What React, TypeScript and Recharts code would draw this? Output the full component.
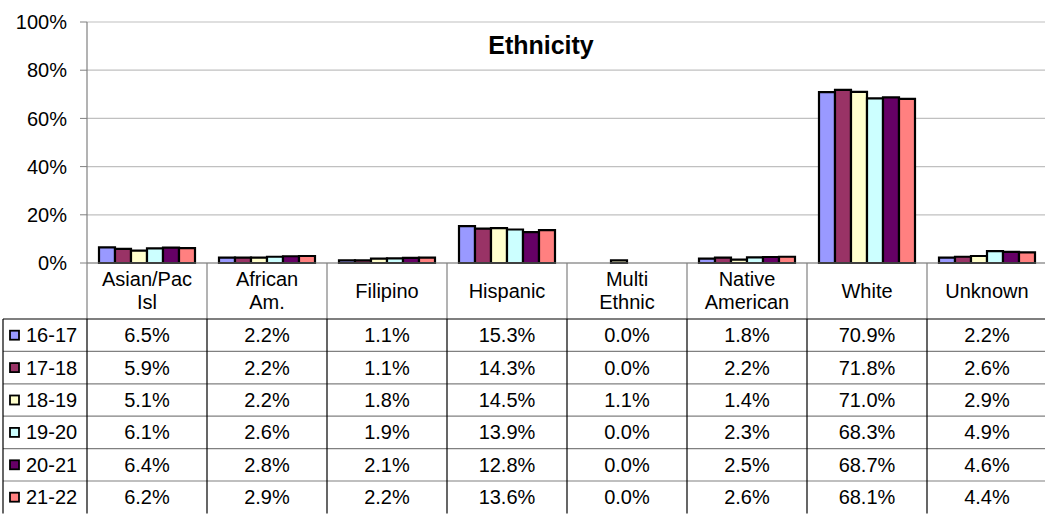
import React from "react";
import { BarChart, Bar, XAxis, YAxis, CartesianGrid } from "recharts";

const CATEGORIES = [
  "Asian/Pac\nIsl",
  "African\nAm.",
  "Filipino",
  "Hispanic",
  "Multi\nEthnic",
  "Native\nAmerican",
  "White",
  "Unknown",
];
const SERIES = ["16-17", "17-18", "18-19", "19-20", "20-21", "21-22"];
const COLORS = ["#9999FF", "#993366", "#FFFFCC", "#CCFFFF", "#660066", "#FF8080"];

const Y1617 = [6.5, 2.2, 1.1, 15.3, 0.0, 1.8, 70.9, 2.2];
const Y1718 = [5.9, 2.2, 1.1, 14.3, 0.0, 2.2, 71.8, 2.6];
const Y1819 = [5.1, 2.2, 1.8, 14.5, 1.1, 1.4, 71.0, 2.9];
const Y1920 = [6.1, 2.6, 1.9, 13.9, 0.0, 2.3, 68.3, 4.9];
const Y2021 = [6.4, 2.8, 2.1, 12.8, 0.0, 2.5, 68.7, 4.6];
const Y2122 = [6.2, 2.9, 2.2, 13.6, 0.0, 2.6, 68.1, 4.4];
const VALUES = [Y1617, Y1718, Y1819, Y1920, Y2021, Y2122];

const Y_TICKS = [0, 20, 40, 60, 80, 100];

const FONT = "'Liberation Sans', Arial, sans-serif";

// layout
const W = 1045;
const H = 514;
const PLOT_LEFT = 87;
const PLOT_TOP = 22;
const PLOT_BOTTOM = 263;
const HEADER_H = 56;
const TABLE_TOP = PLOT_BOTTOM + HEADER_H;
const ROW_H = 32.4;
const COL_W = 120;
const TABLE_LEFT = 3;

const data = CATEGORIES.map((name, i) => {
  const row: Record<string, string | number> = { name };
  SERIES.forEach((s, j) => {
    row[s] = VALUES[j][i];
  });
  return row;
});

function CategoryTick(props: any) {
  const { x, payload } = props;
  const lines = String(payload.value).split("\n");
  const ys = lines.length === 2 ? [279, 302] : [291];
  return (
    <g>
      {lines.map((l, k) => (
        <text
          key={k}
          x={x}
          y={ys[k]}
          textAnchor="middle"
          dominantBaseline="central"
          fontSize={20}
          fontFamily={FONT}
          fill="#000"
        >
          {l}
        </text>
      ))}
    </g>
  );
}

function DataTable() {
  const colX = (i: number) => PLOT_LEFT + i * COL_W;
  const tableBottom = TABLE_TOP + ROW_H * SERIES.length;
  return (
    <svg
      width={W}
      height={H}
      style={{ position: "absolute", left: 0, top: 0, pointerEvents: "none" }}
    >
      <text
        x={541}
        y={45}
        textAnchor="middle"
        dominantBaseline="central"
        fontSize={25}
        fontWeight="bold"
        fontFamily={FONT}
        fill="#000"
      >
        Ethnicity
      </text>
      {/* header separators */}
      {CATEGORIES.map((_, i) => (
        <line
          key={"h" + i}
          x1={colX(i)}
          x2={colX(i)}
          y1={PLOT_BOTTOM}
          y2={TABLE_TOP}
          stroke="#808080"
          strokeWidth={1.2}
        />
      ))}
      {/* horizontal row lines */}
      {SERIES.map((_, j) => (
        <line
          key={"r" + j}
          x1={TABLE_LEFT}
          x2={W}
          y1={TABLE_TOP + j * ROW_H}
          y2={TABLE_TOP + j * ROW_H}
          stroke={j === 0 ? "#000" : "#808080"}
          strokeWidth={1.2}
        />
      ))}
      {/* vertical lines in data area */}
      <line x1={TABLE_LEFT} x2={TABLE_LEFT} y1={TABLE_TOP} y2={tableBottom} stroke="#000" strokeWidth={1.2} />
      {CATEGORIES.map((_, i) => (
        <line
          key={"v" + i}
          x1={colX(i)}
          x2={colX(i)}
          y1={TABLE_TOP}
          y2={tableBottom}
          stroke="#000"
          strokeWidth={1.2}
        />
      ))}
      {SERIES.map((s, j) => {
        const cy = TABLE_TOP + ROW_H * (j + 0.5);
        return (
          <g key={s}>
            <rect x={10} y={cy - 4.5} width={9} height={9} fill={COLORS[j]} stroke="#000" strokeWidth={1.8} />
            <text x={26} y={cy} dominantBaseline="central" fontSize={20} fontFamily={FONT} fill="#000">
              {s}
            </text>
            {VALUES[j].map((v, i) => (
              <text
                key={i}
                x={colX(i) + COL_W / 2}
                y={cy}
                textAnchor="middle"
                dominantBaseline="central"
                fontSize={20}
                fontFamily={FONT}
                fill="#000"
              >
                {v.toFixed(1)}%
              </text>
            ))}
          </g>
        );
      })}
    </svg>
  );
}

export default function App() {
  return (
    <div
      style={{
        position: "absolute",
        left: 0,
        top: 0,
        width: W,
        height: H,
        overflow: "hidden",
        background: "#fff",
      }}
    >
      <BarChart
        width={PLOT_LEFT + CATEGORIES.length * COL_W}
        height={H}
        data={data}
        margin={{ top: PLOT_TOP, right: 0, left: 0, bottom: H - TABLE_TOP }}
        barCategoryGap="10%"
        barGap={0}
      >
        <CartesianGrid vertical={false} stroke="#c0c0c0" strokeWidth={1.2} />
        <XAxis
          dataKey="name"
          height={HEADER_H}
          tickLine={false}
          axisLine={{ stroke: "#808080", strokeWidth: 1.2 }}
          tick={(p: any) => <CategoryTick {...p} />}
          interval={0}
        />
        <YAxis
          width={PLOT_LEFT}
          domain={[0, 100]}
          ticks={Y_TICKS}
          interval={0}
          tickFormatter={(v: number) => `${v}%`}
          tickSize={7}
          tickMargin={13}
          tickLine={{ stroke: "#808080" }}
          axisLine={{ stroke: "#808080", strokeWidth: 1.2 }}
          tick={{ fontSize: 20, fill: "#000", fontFamily: FONT }}
        />
        {SERIES.map((s, j) => (
          <Bar
            key={s}
            dataKey={s}
            fill={COLORS[j]}
            stroke="#000"
            strokeWidth={2.2}
            isAnimationActive={false}
          />
        ))}
      </BarChart>
      <DataTable />
    </div>
  );
}
